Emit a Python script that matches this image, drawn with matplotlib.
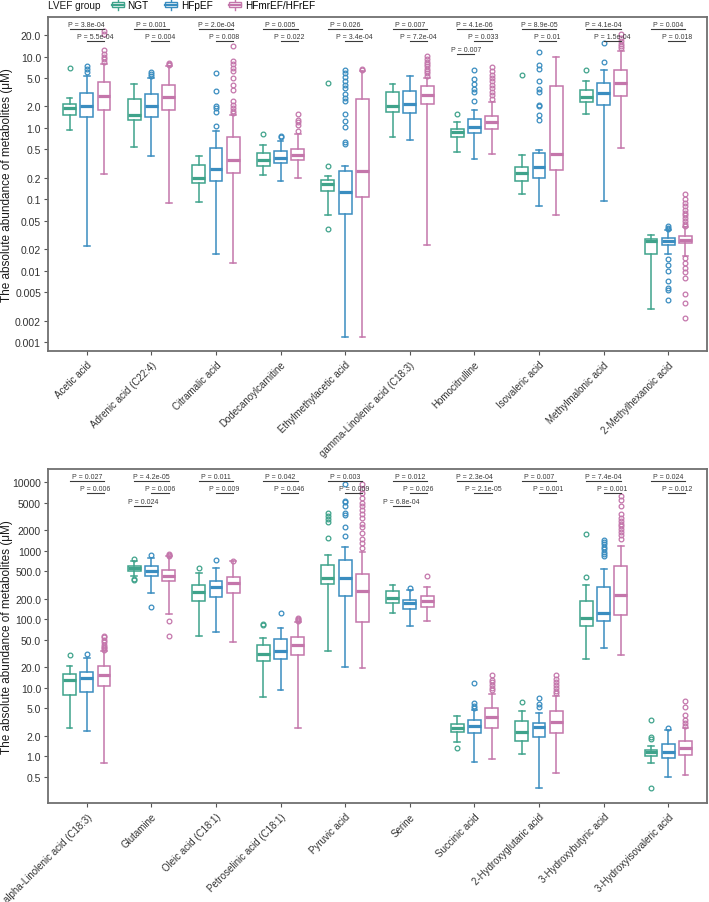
import matplotlib
matplotlib.use('Agg')
import numpy as np
import matplotlib.pyplot as plt
import matplotlib.transforms as mtransforms
from matplotlib.legend_handler import HandlerBase
from matplotlib.patches import Patch, Rectangle
from matplotlib.lines import Line2D
from matplotlib.ticker import NullLocator

plt.rcParams['font.family'] = ['Liberation Sans', 'DejaVu Sans']

groups = ['NGT', 'HFpEF', 'HFmrEF/HFrEF']
group_colors = ['#3fa38b', '#3a8dc0', '#c476ab']

# ---- top panel ----
top_categories = ['Acetic acid', 'Adrenic acid (C22:4)', 'Citramalic acid', 'Dodecanoylcarnitine',
                  'Ethylmethylacetic acid', 'gamma-Linolenic acid (C18:3)', 'Homocitrulline',
                  'Isovaleric acid', 'Methylmalonic acid', '2-Methylhexanoic acid']

# (whisker low, q1, median, q3, whisker high)
top_ngt_stats = [(0.93, 1.5, 1.9, 2.15, 2.65), (0.55, 1.31, 1.53, 2.55, 4.1), (0.093, 0.17, 0.197, 0.30, 0.40),
                 (0.22, 0.29, 0.36, 0.44, 0.58), (0.06, 0.132, 0.164, 0.19, 0.215), (0.74, 1.66, 2.01, 3.2, 4.1),
                 (0.456, 0.76, 0.89, 0.97, 1.23), (0.12, 0.18, 0.234, 0.287, 0.414), (1.59, 2.29, 2.69, 3.4, 4.6),
                 (0.0029, 0.0172, 0.026, 0.0279, 0.032)]
top_ngt_out = [[7.0], [], [], [0.83], [0.296, 0.039, 4.2], [], [1.59], [5.5], [6.5], []]

top_hfp_stats = [(0.022, 1.41, 2.05, 3.06, 5.4), (0.41, 1.44, 2.05, 3.0, 5.0), (0.017, 0.18, 0.264, 0.53, 0.91),
                 (0.18, 0.32, 0.38, 0.47, 0.66), (0.0012, 0.062, 0.128, 0.25, 0.29), (0.69, 1.62, 2.19, 3.3, 5.3),
                 (0.37, 0.84, 1.04, 1.34, 1.79), (0.082, 0.197, 0.287, 0.447, 0.49), (0.096, 2.1, 3.1, 4.2, 6.5),
                 (0.0172, 0.0233, 0.0263, 0.0285, 0.0377)]
top_hfp_out = [[6.1, 6.6, 7.3], [5.4, 5.7, 6.0], [1.05, 1.7, 1.9, 2.0, 3.3, 5.9], [0.76, 0.78],
               [0.6, 0.64, 1.04, 1.24, 1.55, 2.4, 2.6, 3.0, 3.6, 4.0, 4.5, 5.2, 5.8, 6.5],
               [], [2.4, 3.16, 3.5, 4.1, 4.85, 6.4], [1.28, 1.53, 2.05, 2.1, 3.16, 3.5, 4.6, 6.7, 7.5, 11.5],
               [8.3, 15.5], [0.038, 0.040, 0.043, 0.0145, 0.0119, 0.0101, 0.0073, 0.0058, 0.0054, 0.0039]]

top_hfm_stats = [(0.23, 1.8, 2.83, 4.45, 7.9), (0.09, 1.79, 2.69, 4.0, 7.3), (0.0127, 0.237, 0.36, 0.76, 1.52),
                 (0.20, 0.356, 0.42, 0.51, 0.82), (0.0012, 0.109, 0.247, 2.55, 6.3), (0.0228, 2.17, 2.93, 3.9, 5.0),
                 (0.43, 0.97, 1.2, 1.49, 2.29), (0.06, 0.258, 0.43, 3.84, 9.8), (0.52, 2.83, 4.2, 6.5, 12.0),
                 (0.016, 0.0245, 0.027, 0.0304, 0.0405)]
top_hfm_out = [[8.5, 9.2, 10, 11, 12.5, 21, 22.5], [7.6, 7.8, 8.0],
               [1.6, 1.75, 1.9, 2.1, 2.4, 3.4, 4.0, 5.0, 6.3, 7.0, 7.8, 8.8, 14.2], [0.9, 1.1, 1.2, 1.3, 1.55],
               [6.5, 6.7], [5.4, 5.8, 6.3, 6.8, 7.3, 7.9, 8.5, 9.2, 10.2],
               [2.55, 2.9, 3.2, 3.6, 4.0, 4.5, 5.0, 5.6, 6.3, 7.1], [], [13, 14, 15, 16.5, 18, 20.5],
               [0.043, 0.046, 0.05, 0.055, 0.06, 0.065, 0.072, 0.08, 0.09, 0.1, 0.12,
                0.015, 0.013, 0.011, 0.0095, 0.008, 0.0047, 0.0036, 0.0022]]

top_p_ngt_hfm = ['3.8e-04', '0.001', '2.0e-04', '0.005', '0.026', '0.007', '4.1e-06', '8.9e-05', '4.1e-04', '0.004']
top_p_hfp_hfm = ['5.5e-04', '0.004', '0.008', '0.022', '3.4e-04', '7.2e-04', '0.033', '0.01', '1.5e-04', '0.018']
top_p_ngt_hfp = [None, None, None, None, None, None, '0.007', None, None, None]

top_yticks = [0.001, 0.002, 0.005, 0.01, 0.02, 0.05, 0.1, 0.2, 0.5, 1, 2, 5, 10, 20]
top_yticklabels = ['0.001', '0.002', '0.005', '0.01', '0.02', '0.05', '0.1', '0.2', '0.5',
                   '1.0', '2.0', '5.0', '10.0', '20.0']

# ---- bottom panel ----
bot_categories = ['alpha-Linolenic acid (C18:3)', 'Glutamine', 'Oleic acid (C18:1)', 'Petroselinic acid (C18:1)',
                  'Pyruvic acid', 'Serine', 'Succinic acid', '2-Hydroxyglutaric acid',
                  '3-Hydroxybutyric acid', '3-Hydroxyisovaleric acid']

bot_ngt_stats = [(2.56, 7.9, 13, 15.9, 20.6), (430, 512, 556, 606, 720), (57.7, 185, 248, 316, 468),
                 (7.3, 24.4, 31, 42, 53), (34, 331, 405, 627, 870), (122, 173, 205, 256, 320),
                 (1.6, 2.29, 2.59, 2.96, 3.84), (1.09, 1.67, 2.24, 3.24, 4.54), (26.3, 79, 103, 183, 316),
                 (0.79, 1.0, 1.14, 1.25, 1.43)]
bot_ngt_out = [[29.8], [760, 390, 380], [556], [82, 84], [1520, 2600, 2900, 3200, 3600], [], [1.34], [6.27],
               [419, 1760], [1.79, 1.93, 3.36, 0.34]]

bot_hfp_stats = [(2.32, 8.8, 13.8, 17.2, 27.2), (240, 425, 502, 594, 777), (64.6, 214, 293, 366, 561),
                 (9.4, 26.6, 34.8, 51.5, 74), (20, 221, 403, 741, 1150), (79, 141, 173, 193, 268),
                 (0.835, 2.17, 2.8, 3.36, 4.79), (0.35, 1.91, 2.7, 3.09, 4.24), (37.7, 95.5, 122, 294, 542),
                 (0.5, 0.95, 1.14, 1.53, 2.44)]
bot_hfp_out = [[31.5], [870, 151], [741], [122], [1660, 2200, 3300, 3600, 4450, 5100, 5400, 9500], [290],
               [5.0, 5.5, 6.0, 11.9], [5.2, 5.8, 7.0], [850, 900, 950, 1050, 1150, 1250, 1350, 1450], [2.6]]

bot_hfm_stats = [(0.81, 10.7, 15.5, 20.6, 34.8), (118, 366, 433, 530, 830), (46, 242, 339, 419, 700),
                 (2.59, 29.8, 41.7, 55.7, 92), (19.3, 90, 262, 458, 970), (93.5, 150, 183, 217, 299),
                 (0.9, 2.62, 3.75, 5.13, 8.1), (0.565, 2.21, 3.13, 4.54, 7.67), (30.4, 116, 229, 594, 1190),
                 (0.54, 1.05, 1.31, 1.67, 2.59)]
bot_hfm_out = [[36, 38, 40, 42, 46, 50, 55, 58], [850, 870, 900, 94.5, 58], [705], [95, 98, 100, 103],
               [1100, 1300, 1500, 1800, 2200, 2500, 3000, 3500, 4000, 4500, 5000, 6000, 7000, 8000, 9500],
               [429], [9.2, 10, 11, 12, 13, 15.5], [8.5, 9, 10, 11, 12, 13.5, 15.5],
               [1500, 1700, 1900, 2100, 2300, 2500, 2700, 3000, 3500, 4500, 5500, 6300],
               [2.8, 3.1, 3.4, 4.0, 5.3, 6.5]]

bot_p_ngt_hfm = ['0.027', '4.2e-05', '0.011', '0.042', '0.003', '0.012', '2.3e-04', '0.007', '7.4e-04', '0.024']
bot_p_hfp_hfm = ['0.006', '0.006', '0.009', '0.046', '0.009', '0.026', '2.1e-05', '0.001', '0.001', '0.012']
bot_p_ngt_hfp = [None, '0.024', None, None, None, '6.8e-04', None, None, None, None]

bot_yticks = [0.5, 1, 2, 5, 10, 20, 50, 100, 200, 500, 1000, 2000, 5000, 10000]
bot_yticklabels = ['0.5', '1.0', '2.0', '5.0', '10.0', '20.0', '50.0', '100.0', '200.0', '500.0',
                   '1000', '2000', '5000', '10000']

offsets = [-0.267, 0.0, 0.267]
ylabel = 'The absolute abundance of metabolites (\u03bcM)'


def make_stats(five, outs):
    stats = []
    for (lo, q1, med, q3, hi), fl in zip(five, outs):
        stats.append({'whislo': lo, 'q1': q1, 'med': med, 'q3': q3, 'whishi': hi, 'fliers': fl})
    return stats


def draw_panel(fig, ax, categories, group_data, p_rows, ylim, yticks, yticklabels):
    n = len(categories)
    pos = np.arange(1, n + 1)
    for (five, outs), color, off in zip(group_data, group_colors, offsets):
        ax.bxp(make_stats(five, outs), positions=pos + off, widths=0.2, capwidths=0.09,
               patch_artist=True, manage_ticks=False,
               boxprops=dict(facecolor='white', edgecolor=color, linewidth=1.1),
               medianprops=dict(color=color, linewidth=2.3, solid_capstyle='butt'),
               whiskerprops=dict(color=color, linewidth=1.1),
               capprops=dict(color=color, linewidth=1.1),
               flierprops=dict(marker='o', markerfacecolor='none', markeredgecolor=color,
                               markersize=3.4, markeredgewidth=0.9))

    trans = ax.get_xaxis_transform()
    for (pvals, a, b), yl in zip(p_rows, [0.965, 0.927, 0.889]):
        for x, p in zip(pos, pvals):
            if p is None:
                continue
            ax.plot([x + offsets[a], x + offsets[b]], [yl, yl], transform=trans, color='#3a3a3a', lw=0.8)
            ax.text(x + (offsets[a] + offsets[b]) / 2, yl + 0.003, 'P = ' + p, transform=trans,
                    ha='center', va='bottom', fontsize=5, color='#3a3a3a')

    ax.set_yscale('log')
    ax.set_ylim(*ylim)
    ax.set_yticks(yticks)
    ax.set_yticklabels(yticklabels)
    ax.yaxis.set_minor_locator(NullLocator())
    ax.set_xlim(0.4, n + 0.6)
    ax.set_xticks(pos)
    ax.set_xticklabels(categories, rotation=45, ha='right', va='top', rotation_mode='anchor')
    shift = mtransforms.ScaledTranslation(4 / 100, 0, fig.dpi_scale_trans)
    for lab in ax.get_xticklabels():
        lab.set_transform(lab.get_transform() + shift)
    ax.tick_params(axis='both', length=3, width=0.8, color='#555555',
                   labelcolor='#333333', pad=2)
    ax.tick_params(axis='y', labelsize=7.5)
    ax.tick_params(axis='x', labelsize=7.0, pad=3)
    for s in ax.spines.values():
        s.set_color('#707070')
        s.set_linewidth(1.3)
    ax.set_ylabel(ylabel, fontsize=8.5, color='#1a1a1a')
    ax.yaxis.set_label_coords(-0.053, 0.5)


class BoxKey(HandlerBase):
    def create_artists(self, legend, orig_handle, xdescent, ydescent, width, height, fontsize, trans):
        c = orig_handle.get_edgecolor()
        x0, y0 = -xdescent, -ydescent
        cx = x0 + width / 2
        top = Line2D([cx, cx], [y0 + height * 0.8, y0 + height * 1.1], color=c, lw=1.0, transform=trans)
        bot = Line2D([cx, cx], [y0 - height * 0.1, y0 + height * 0.2], color=c, lw=1.0, transform=trans)
        box = Rectangle((x0, y0 + height * 0.2), width, height * 0.6, facecolor='white',
                        edgecolor=c, lw=1.0, transform=trans)
        med = Line2D([x0, x0 + width], [y0 + height * 0.5] * 2, color=c, lw=1.6, transform=trans)
        return [top, bot, box, med]


fig = plt.figure(figsize=(7.09, 9.03), dpi=100)
ax_top = fig.add_axes([48 / 709, 1 - 352 / 903, 659 / 709, 334 / 903])
ax_bot = fig.add_axes([48 / 709, 1 - 804 / 903, 659 / 709, 334 / 903])

draw_panel(fig, ax_top, top_categories,
           [(top_ngt_stats, top_ngt_out), (top_hfp_stats, top_hfp_out), (top_hfm_stats, top_hfm_out)],
           [(top_p_ngt_hfm, 0, 2), (top_p_hfp_hfm, 1, 2), (top_p_ngt_hfp, 0, 1)],
           (0.000755, 35.8), top_yticks, top_yticklabels)
draw_panel(fig, ax_bot, bot_categories,
           [(bot_ngt_stats, bot_ngt_out), (bot_hfp_stats, bot_hfp_out), (bot_hfm_stats, bot_hfm_out)],
           [(bot_p_ngt_hfm, 0, 2), (bot_p_hfp_hfm, 1, 2), (bot_p_ngt_hfp, 0, 1)],
           (0.208, 15640), bot_yticks, bot_yticklabels)

handles = [Patch(facecolor='white', edgecolor=c) for c in group_colors]
fig.legend(handles, groups, loc='center left', bbox_to_anchor=(111.5 / 709, 1 - 6 / 903), ncol=3,
           frameon=False, handler_map={Patch: BoxKey()}, handlelength=1.2, handleheight=1.0,
           handletextpad=0.35, columnspacing=1.7, borderpad=0, borderaxespad=0, fontsize=7.2)
fig.text(47.5 / 709, 1 - 6 / 903, 'LVEF group', ha='left', va='center', fontsize=7.2, color='#1a1a1a')

fig.savefig('out.png', dpi=100)
